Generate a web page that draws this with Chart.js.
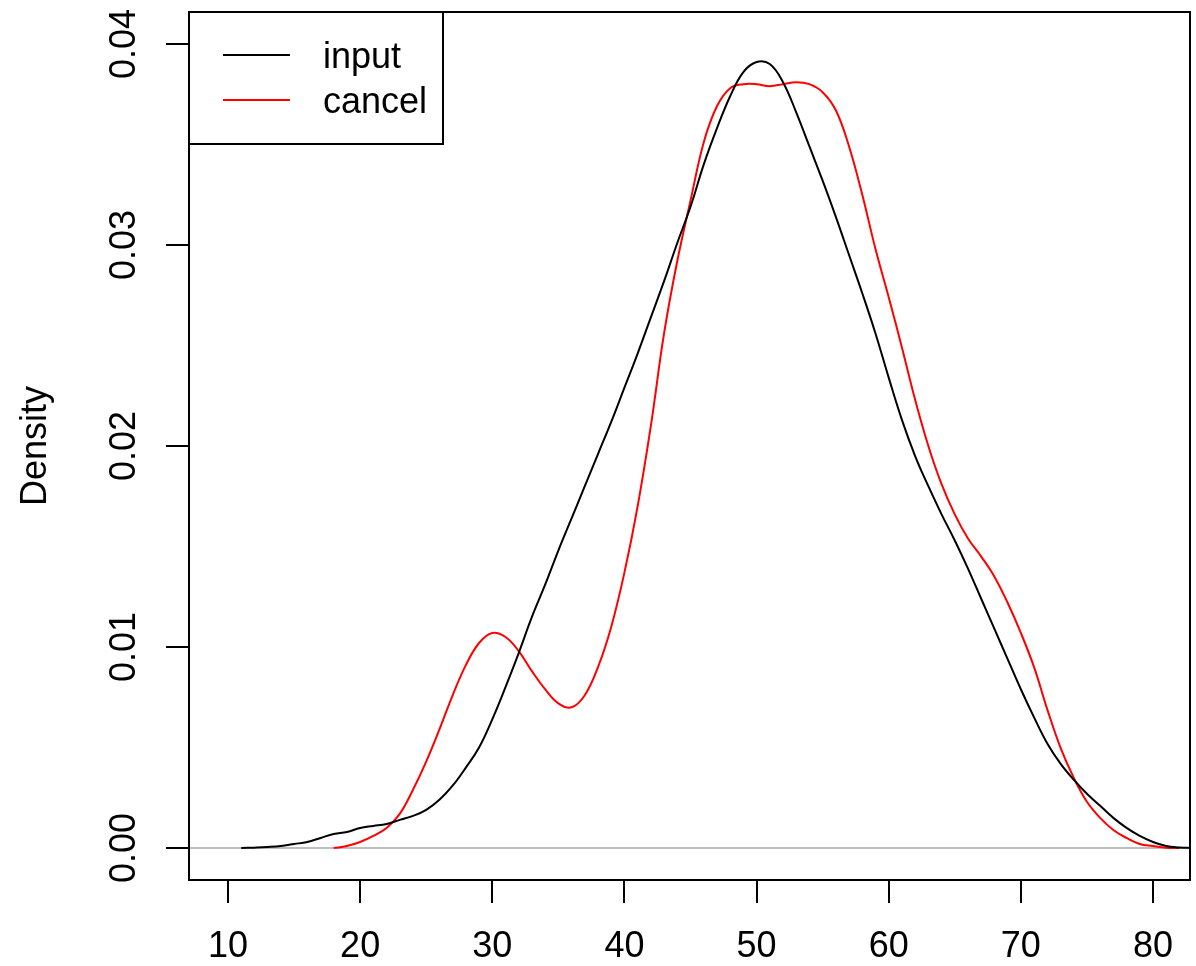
<!DOCTYPE html>
<html><head><meta charset="utf-8">
<script src="https://cdn.jsdelivr.net/npm/chart.js@4.4.0/dist/chart.umd.min.js"></script>
<style>html,body{margin:0;padding:0;background:#fff;overflow:hidden}#wrap{width:1196px;height:966px;position:relative}</style>
</head><body><div id="wrap"><canvas id="c" width="1196" height="966"></canvas></div>
<script>
const seriesNames = ["input", "cancel"];
const seriesColors = ["#000000", "#ff0000"];
const inputX = [11, 12, 13, 14, 15, 16, 17, 18, 19, 20, 21, 22, 23, 24, 25, 26, 27, 28, 29, 30, 31, 32, 33, 34, 35, 36, 37, 38, 39, 40, 41, 42, 43, 44, 45, 46, 47, 48, 49, 50, 51, 52, 53, 54, 55, 56, 57, 58, 59, 60, 61, 62, 63, 64, 65, 66, 67, 68, 69, 70, 71, 72, 73, 74, 75, 76, 77, 78, 79, 80, 81, 82, 83];
const inputY = [0.0000, 0.00002, 0.00005, 0.0001, 0.0002, 0.0003, 0.0005, 0.0007, 0.0008, 0.0010, 0.0011, 0.0012, 0.0014, 0.0016, 0.0019, 0.0024, 0.0031, 0.0040, 0.0050, 0.0064, 0.0080, 0.0097, 0.0115, 0.0131, 0.0148, 0.0164, 0.0180, 0.0196, 0.0212, 0.0229, 0.0246, 0.0264, 0.0282, 0.0301, 0.0319, 0.0340, 0.0358, 0.0374, 0.0386, 0.0391, 0.0390, 0.0381, 0.0366, 0.0349, 0.0332, 0.0314, 0.0295, 0.0276, 0.0256, 0.0234, 0.0213, 0.0195, 0.0180, 0.0166, 0.0153, 0.0139, 0.0124, 0.0109, 0.0094, 0.0079, 0.0065, 0.0052, 0.0042, 0.0034, 0.0027, 0.0021, 0.0015, 0.0010, 0.0006, 0.0003, 0.0001, 0.00003, 0.0000];
const cancelX = [18, 19, 20, 21, 22, 23, 24, 25, 26, 27, 28, 29, 30, 31, 32, 33, 34, 35, 36, 37, 38, 39, 40, 41, 42, 43, 44, 45, 46, 47, 48, 49, 50, 51, 52, 53, 54, 55, 56, 57, 58, 59, 60, 61, 62, 63, 64, 65, 66, 67, 68, 69, 70, 71, 72, 73, 74, 75, 76, 77, 78, 79, 80, 81, 82];
const cancelY = [0.0000, 0.0001, 0.0003, 0.0006, 0.0010, 0.0017, 0.0029, 0.0043, 0.0059, 0.0076, 0.0091, 0.0102, 0.0107, 0.0105, 0.0098, 0.0088, 0.0079, 0.0072, 0.0070, 0.0076, 0.0090, 0.0110, 0.0137, 0.0170, 0.0210, 0.0256, 0.0292, 0.0322, 0.0351, 0.0369, 0.0378, 0.0380, 0.0380, 0.0379, 0.0380, 0.0381, 0.0380, 0.0376, 0.0367, 0.0349, 0.0325, 0.0298, 0.0274, 0.0249, 0.0223, 0.0200, 0.0181, 0.0166, 0.0154, 0.0145, 0.0135, 0.0122, 0.0107, 0.0090, 0.0069, 0.0050, 0.0035, 0.0023, 0.0015, 0.0009, 0.0005, 0.0002, 0.0001, 0.00002, 0.0000];
const xTickValues = [10, 20, 30, 40, 50, 60, 70, 80];
const yTickValues = [0, 0.01, 0.02, 0.03, 0.04];
const yTickLabels = ["0.00", "0.01", "0.02", "0.03", "0.04"];
const yAxisTitle = "Density";
const xLimits = [7.05, 82.8];
const yLimits = [-0.00159, 0.04159];

const FONT = "'Liberation Sans', Arial, Helvetica, sans-serif";
const toPts = (xs, ys) => xs.map((x, i) => ({x: x, y: ys[i]}));

const framePlugin = {
  id: 'frame',
  beforeDatasetsDraw(chart) {
    const {ctx, chartArea: a, scales: {y}} = chart;
    const py = y.getPixelForValue(0);
    ctx.save();
    ctx.strokeStyle = '#bebebe';
    ctx.lineWidth = 2;
    ctx.beginPath(); ctx.moveTo(a.left, py); ctx.lineTo(a.right, py); ctx.stroke();
    ctx.restore();
  },
  afterDatasetsDraw(chart) {
    const {ctx, chartArea: a} = chart;
    ctx.save();
    ctx.strokeStyle = '#000';
    ctx.lineWidth = 2;
    ctx.strokeRect(a.left, a.top, a.right - a.left, a.bottom - a.top);
    const lx = a.left, ly = a.top, lw = 254, lh = 132;
    ctx.strokeRect(lx, ly, lw, lh);
    ctx.font = '36px ' + FONT;
    ctx.textBaseline = 'middle';
    ctx.textAlign = 'left';
    const rows = [43, 88];
    seriesNames.forEach((n, i) => {
      const yy = ly + rows[i];
      ctx.strokeStyle = seriesColors[i];
      ctx.lineWidth = 2;
      ctx.beginPath(); ctx.moveTo(lx + 34, yy); ctx.lineTo(lx + 101, yy); ctx.stroke();
      ctx.fillStyle = '#000';
      ctx.fillText(n, lx + 134, yy + 3);
    });
    ctx.restore();
  }
};

new Chart(document.getElementById('c'), {
  type: 'line',
  data: {
    datasets: [
      {label: seriesNames[0], data: toPts(inputX, inputY), borderColor: seriesColors[0], borderWidth: 2, pointRadius: 0, tension: 0.4, cubicInterpolationMode: 'default', fill: false},
      {label: seriesNames[1], data: toPts(cancelX, cancelY), borderColor: seriesColors[1], borderWidth: 2, pointRadius: 0, tension: 0.4, cubicInterpolationMode: 'default', fill: false}
    ]
  },
  options: {
    responsive: false,
    animation: false,
    devicePixelRatio: 1,
    layout: {padding: {left: 0, top: 12, right: 6, bottom: 0}},
    plugins: {legend: {display: false}, tooltip: {enabled: false}},
    scales: {
      x: {
        type: 'linear', min: xLimits[0], max: xLimits[1],
        afterBuildTicks: s => { s.ticks = xTickValues.map(v => ({value: v})); },
        afterFit: s => { s.height = 86; s.paddingLeft = 0; s.paddingRight = 0; },
        ticks: {font: {family: FONT, size: 36}, color: '#000', padding: 22, maxRotation: 0, autoSkip: false, callback: v => String(v)},
        grid: {drawOnChartArea: false, drawTicks: true, tickLength: 23, color: '#000', lineWidth: 2},
        border: {display: false}
      },
      y: {
        type: 'linear', min: yLimits[0], max: yLimits[1],
        afterBuildTicks: s => { s.ticks = yTickValues.map(v => ({value: v})); },
        afterFit: s => { s.width = 189; s.paddingTop = 0; s.paddingBottom = 0; },
        ticks: {font: {family: FONT, size: 36}, color: '#000', padding: 6, crossAlign: 'center', minRotation: 90, maxRotation: 90, autoSkip: false,
          callback: v => { const i = yTickValues.indexOf(v); return i >= 0 ? yTickLabels[i] : ''; }},
        grid: {drawOnChartArea: false, drawTicks: true, tickLength: 23, color: '#000', lineWidth: 2},
        border: {display: false},
        title: {display: true, text: yAxisTitle, font: {family: FONT, size: 36}, color: '#000', padding: {top: 14, bottom: 0}}
      }
    }
  },
  plugins: [framePlugin]
});
</script></body></html>
